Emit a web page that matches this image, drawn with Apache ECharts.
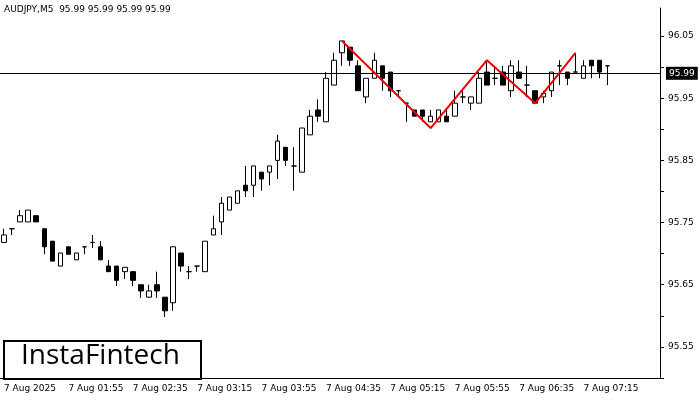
<!DOCTYPE html>
<html><head><meta charset="utf-8">
<script src="https://cdn.jsdelivr.net/npm/echarts@6/dist/echarts.min.js"></script>
<style>html,body{margin:0;padding:0;background:#fff}#c{width:700px;height:400px}</style>
</head><body><div id="c"></div>
<script>
// OHLC as [open, close, low, high]
const candles = [
[95.718,95.730,95.718,95.740],[95.740,95.740,95.730,95.740],[95.751,95.761,95.751,95.770],[95.751,95.770,95.751,95.770],
[95.761,95.751,95.751,95.761],[95.740,95.711,95.699,95.740],[95.720,95.688,95.688,95.720],[95.680,95.701,95.680,95.701],
[95.711,95.699,95.699,95.711],[95.690,95.701,95.690,95.701],[95.711,95.711,95.699,95.711],[95.718,95.718,95.709,95.730],
[95.711,95.690,95.690,95.720],[95.680,95.671,95.671,95.690],[95.680,95.657,95.648,95.680],[95.671,95.678,95.659,95.678],
[95.671,95.657,95.648,95.671],[95.650,95.640,95.629,95.650],[95.630,95.640,95.629,95.650],[95.650,95.640,95.629,95.671],
[95.630,95.608,95.598,95.630],[95.621,95.711,95.608,95.711],[95.701,95.680,95.671,95.701],[95.671,95.671,95.659,95.680],
[95.680,95.680,95.671,95.680],[95.671,95.720,95.671,95.720],[95.730,95.740,95.730,95.761],[95.751,95.781,95.730,95.791],
[95.770,95.791,95.770,95.791],[95.781,95.801,95.781,95.801],[95.810,95.801,95.791,95.841],[95.810,95.841,95.791,95.841],
[95.831,95.820,95.801,95.831],[95.831,95.841,95.810,95.841],[95.850,95.881,95.820,95.891],[95.871,95.850,95.841,95.871],
[95.841,95.841,95.801,95.871],[95.831,95.902,95.831,95.902],[95.891,95.921,95.891,95.931],[95.931,95.921,95.912,95.948],
[95.912,95.982,95.912,95.992],[95.971,96.011,95.971,96.023],[96.023,96.042,96.002,96.042],[96.032,96.011,96.002,96.032],
[96.002,95.962,95.962,96.011],[95.952,95.982,95.942,95.982],[95.982,96.011,95.982,96.023],[96.002,95.982,95.962,96.002],
[95.992,95.962,95.952,95.992],[95.962,95.962,95.952,95.962],[95.942,95.942,95.912,95.942],[95.931,95.921,95.921,95.931],
[95.931,95.921,95.912,95.931],[95.912,95.921,95.912,95.931],[95.912,95.931,95.912,95.931],[95.921,95.912,95.912,95.931],
[95.921,95.942,95.921,95.962],[95.952,95.952,95.942,95.962],[95.942,95.952,95.931,95.952],[95.942,95.982,95.942,95.992],
[95.992,95.971,95.971,96.011],[95.982,95.982,95.971,96.002],[95.992,95.971,95.971,96.002],[95.962,96.002,95.952,96.011],
[95.992,95.982,95.982,96.011],[95.971,95.971,95.952,96.002],[95.962,95.942,95.942,95.962],[95.952,95.958,95.942,95.962],
[95.962,95.992,95.952,95.992],[96.002,96.002,95.971,96.011],[95.992,95.982,95.971,95.992],[95.992,95.992,95.992,96.023],
[95.982,96.002,95.982,96.011],[96.011,96.002,95.982,96.011],[96.011,95.992,95.982,96.011],[96.002,96.002,95.971,96.002]
];
const emptySlots = 6; // blank space to the right of the last bar
const patternIdx = [42, 53, 60, 66, 71];
const patternVal = [96.042, 95.902, 96.011, 95.942, 96.023];
const currentPrice = 95.99;
const startMinutes = 75; // 01:15
const nSlots = candles.length + emptySlots;
const categories = Array.from({ length: nSlots }, (_, i) => {
  const m = startMinutes + 5 * i;
  const hh = String(Math.floor(m / 60)).padStart(2, '0'), mm = String(m % 60).padStart(2, '0');
  return i === 0 ? '7 Aug 2025' : '7 Aug ' + hh + ':' + mm;
});
const candleData = categories.map((_, i) => candles[i] || '-');
const patternData = categories.map(() => null);
patternIdx.forEach((k, j) => patternData[k] = patternVal[j]);

const chart = echarts.init(document.getElementById('c'));
chart.setOption({
  animation: false,
  backgroundColor: '#fff',
  textStyle: { fontFamily: 'DejaVu Sans' },
  grid: { left: -1, right: 40, top: 8, bottom: 22 },
  xAxis: {
    type: 'category', data: categories, boundaryGap: true,
    axisLine: { lineStyle: { color: '#000' } },
    axisTick: { interval: 7, lineStyle: { color: '#000' }, length: 4 },
    axisLabel: { interval: 7, color: '#000', fontSize: 9, align: 'left', margin: 6, fontFamily: 'DejaVu Sans',
      formatter: (v, i) => (i < candles.length ? v : '') },
    splitLine: { show: false }
  },
  yAxis: {
    type: 'value', position: 'right', min: 95.5, max: 96.095, interval: 0.05,
    axisLine: { show: true, lineStyle: { color: '#000' } },
    axisTick: { show: true, length: 4, lineStyle: { color: '#000' } },
    axisLabel: { color: '#000', fontSize: 9, margin: 8, showMaxLabel: false,
      formatter: v => (Math.round(v * 100) % 10 === 5 ? v.toFixed(2) : '') },
    splitLine: { show: false }
  },
  graphic: [
    { type: 'text', left: 4, top: 5, style: { text: 'AUDJPY,M5  95.99 95.99 95.99 95.99', fontSize: 9, fill: '#000', fontFamily: 'DejaVu Sans' } },
    { type: 'rect', left: 3, top: 340, shape: { width: 197, height: 38 }, style: { fill: '#fff', stroke: '#000', lineWidth: 2 } },
    { type: 'text', left: 21, top: 342, style: { text: 'InstaFintech', fontSize: 28, fill: '#000', fontFamily: 'Open Sans' } }
  ],
  series: [
    { type: 'candlestick', data: candleData, barWidth: 5,
      itemStyle: { color: '#fff', color0: '#000', borderColor: '#000', borderColor0: '#000', borderWidth: 1 },
      markLine: { symbol: 'none', silent: true, animation: false,
        lineStyle: { color: '#000', type: 'solid', width: 1 },
        label: { position: 'end', formatter: currentPrice.toFixed(2), backgroundColor: '#000', color: '#fff', fontSize: 9, padding: [2, 3], distance: 6 },
        data: [{ yAxis: currentPrice }] } },
    { type: 'line', data: patternData, connectNulls: true, symbol: 'none',
      lineStyle: { color: '#ee0000', width: 2 }, z: 5 }
  ]
});
</script></body></html>
